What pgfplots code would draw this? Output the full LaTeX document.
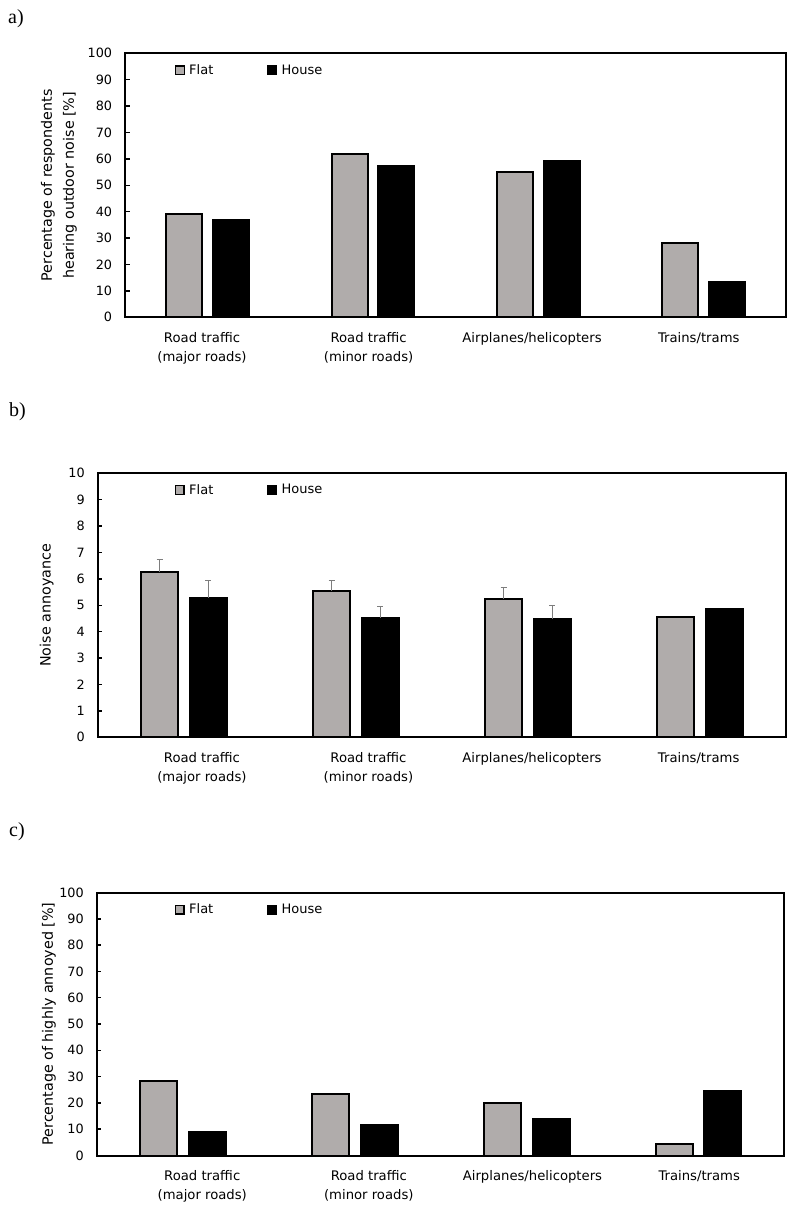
\documentclass[border=0pt]{standalone}
\usepackage{fontspec}
\setmainfont{DejaVu Sans}
\newfontfamily\panelfont{Liberation Serif}
\usepackage{pgfplots}
\pgfplotsset{compat=1.18}
\definecolor{flatgray}{RGB}{176,172,171}
\definecolor{errgray}{RGB}{125,125,125}
\pgfplotsset{
 mybase/.style={
  scale only axis, height=264pt,
  xmin=-0.5, xmax=3.5, ymin=0,
  axis line style={line width=2pt},
  tick align=inside, ytick pos=left,
  major tick length=4.5pt,
  ytick style={line width=1.5pt, black},
  xtick style={draw=none},
  /pgf/number format/assume math mode=true,
  yticklabel style={font=\fontsize{12.8}{15}\selectfont, xshift=-9.4pt},
  xticklabel style={font=\fontsize{13.2}{18.5}\selectfont, align=center, yshift=-7.3pt},
  every axis y label/.style={rotate=90, anchor=center, font=\fontsize{14.3}{22}\selectfont, align=center},
  legend columns=2,
  legend style={draw=none, fill=none, inner sep=0pt, outer sep=0pt, anchor=west,
    font=\fontsize{13}{15}\selectfont, nodes={inner sep=2pt},
    /tikz/every odd column/.append style={column sep=2.5pt},
    /tikz/every even column/.append style={column sep=52pt}},
  ybar,
  xticklabels={{Road traffic\\(major roads)},{Road traffic\\(minor roads)},{Airplanes/helicopters},{Trains/trams}},
 },
 sqlegend/.style={legend image code/.code={\draw[##1, line width=1.2pt] (0pt,-4.3pt) rectangle (8.6pt,4.3pt);}},
 flatbar/.style={fill=flatgray, draw=black, line width=2pt},
 housebar/.style={fill=black, draw=black, line width=2pt},
 errs/.style={error bars/.cd, y dir=plus, y explicit,
   error bar style={errgray, line width=1pt},
   error mark options={rotate=90, errgray, mark size=3pt, line width=1pt}},
}
\begin{document}
\begin{tikzpicture}
\path (0,0) rectangle (799pt,-1210pt);
\node[anchor=west, font=\panelfont\fontsize{20}{20}\selectfont, inner sep=0pt] at (8pt,-19pt) {a)};
\node[anchor=west, font=\panelfont\fontsize{20}{20}\selectfont, inner sep=0pt] at (9pt,-412pt) {b)};
\node[anchor=west, font=\panelfont\fontsize{20}{20}\selectfont, inner sep=0pt] at (9pt,-831.5pt) {c)};

% ---------- a ----------
\begin{axis}[mybase, at={(125pt,-317.3pt)}, anchor=south west, width=661pt,
  ymax=100, ytick={0,10,...,100},
  xtick={-0.034,0.974,1.963,2.972},
  ylabel={Percentage of respondents\\hearing outdoor noise [\%]},
  ylabel style={at={(axis description cs:-0.0998,0.5)}},
  legend style={at={(0.0755,0.9356)}},
  bar width=36pt]
\addplot[flatbar, sqlegend, bar shift=-23.3pt] coordinates {(0,39.0) (1,62.0) (2,54.9) (3,28.1)};
\addlegendentry{Flat}
\addplot[housebar, sqlegend, bar shift=23.5pt] coordinates {(0,37.0) (1,57.4) (2,59.2) (3,13.5)};
\addlegendentry{House}
\end{axis}

% ---------- b ----------
\begin{axis}[mybase, at={(97.7pt,-737.3pt)}, anchor=south west, width=688pt,
  ymax=10, ytick={0,1,...,10},
  xtick={0.106,1.074,2.025,2.994},
  ylabel={Noise annoyance},
  ylabel style={at={(axis description cs:-0.0741,0.5)}},
  legend style={at={(0.1122,0.937)}},
  bar width=37pt]
\addplot[flatbar, sqlegend, bar shift=-24pt, errs] coordinates {(0,6.27) +- (0,0.47) (1,5.56) +- (0,0.37) (2,5.24) +- (0,0.43)};
\addlegendentry{Flat}
\addplot[housebar, sqlegend, bar shift=24.6pt, errs] coordinates {(0,5.28) +- (0,0.66) (1,4.53) +- (0,0.44) (2,4.48) +- (0,0.50)};
\addlegendentry{House}
\addplot[flatbar, bar shift=-24pt, forget plot] coordinates {(3,4.57)};
\addplot[housebar, bar shift=24.6pt, forget plot] coordinates {(3,4.85)};
\end{axis}

% ---------- c ----------
\begin{axis}[mybase, at={(96.7pt,-1155.5pt)}, anchor=south west, width=687.6pt, height=263pt,
  ymax=100, ytick={0,10,...,100},
  xtick={0.114,1.083,2.035,3.005},
  ylabel={Percentage of highly annoyed [\%]},
  ylabel style={at={(axis description cs:-0.0694,0.5)}},
  legend style={at={(0.1137,0.935)}},
  bar width=37pt]
\addplot[flatbar, sqlegend, bar shift=-24pt] coordinates {(0,28.3) (1,23.5) (2,20.0) (3,4.3)};
\addlegendentry{Flat}
\addplot[housebar, sqlegend, bar shift=24.6pt] coordinates {(0,8.9) (1,11.5) (2,13.9) (3,24.7)};
\addlegendentry{House}
\end{axis}
\end{tikzpicture}
\end{document}
